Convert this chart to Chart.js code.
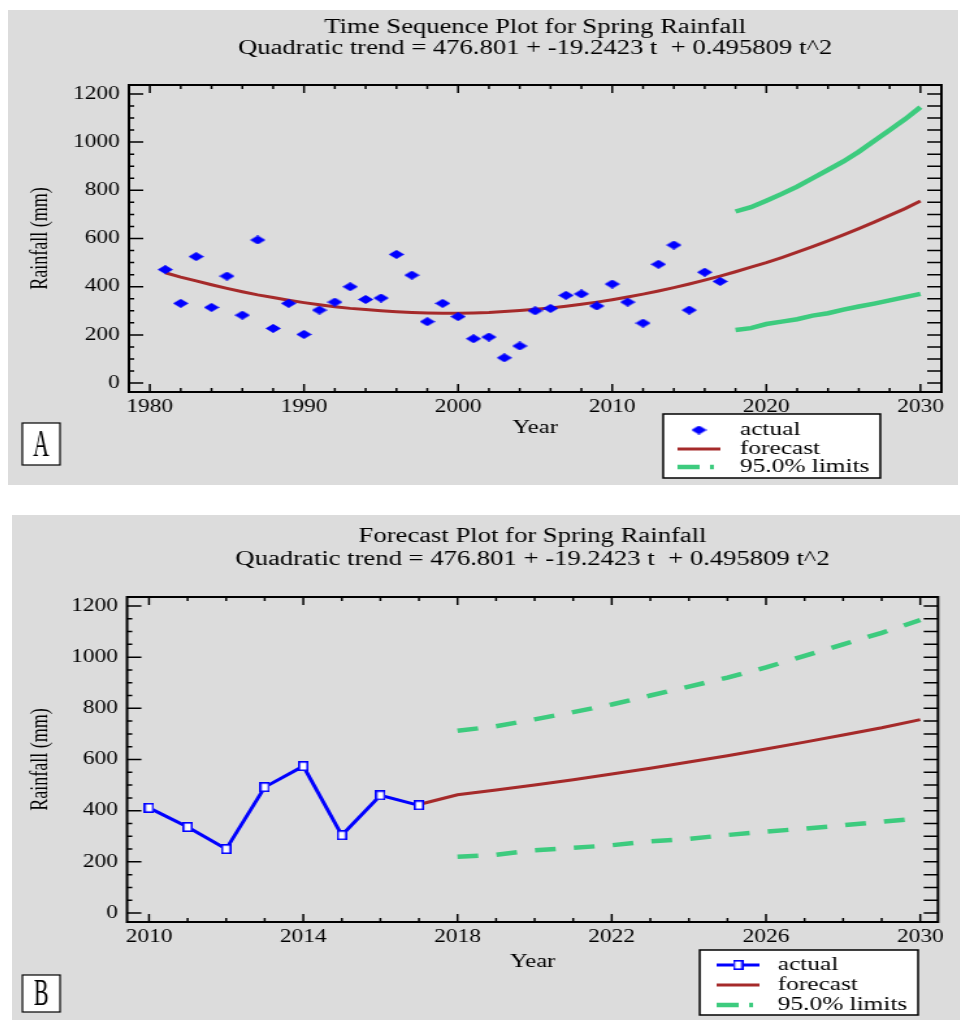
<!DOCTYPE html>
<html>
<head>
<meta charset="utf-8">
<title>Spring Rainfall</title>
<script src="https://cdn.jsdelivr.net/npm/chart.js@4.4.1/dist/chart.umd.min.js"></script>
<style>
  html, body { margin: 0; padding: 0; background: #fff; }
  body { width: 965px; height: 1020px; position: relative; overflow: hidden; }
  .panel { position: absolute; background: #dcdcdc; overflow: hidden; }
  #panel-a { left: 8px; top: 10px; width: 950px; height: 475px; }
  #panel-b { left: 12px; top: 515px; width: 948px; height: 505px; }
  /* the source picture is stretched sideways, so the charts are too */
  .stretch { position: absolute; left: 0; top: 0; transform: scaleX(1.3); transform-origin: 0 0; }
</style>
</head>
<body>
<div class="panel" id="panel-a"><div class="stretch"><canvas id="chartA" width="731" height="475"></canvas></div></div>
<div class="panel" id="panel-b"><div class="stretch"><canvas id="chartB" width="729" height="505"></canvas></div></div>

<script>
// --- DATA ---
const actualYears = [1981, 1982, 1983, 1984, 1985, 1986, 1987, 1988, 1989, 1990,
                     1991, 1992, 1993, 1994, 1995, 1996, 1997, 1998, 1999, 2000,
                     2001, 2002, 2003, 2004, 2005, 2006, 2007, 2008, 2009, 2010,
                     2011, 2012, 2013, 2014, 2015, 2016, 2017];
const actualRain = [471, 331, 525, 314, 444, 282, 594, 227, 331, 202,
                    303, 336, 400, 347, 353, 534, 448, 255, 331, 276,
                    184, 191, 105, 154, 300, 310, 364, 370, 320, 411,
                    336, 249, 493, 573, 303, 460, 422];

const forecastYears = [1981, 1982, 1983, 1984, 1985, 1986, 1987, 1988, 1989, 1990,
                       1991, 1992, 1993, 1994, 1995, 1996, 1997, 1998, 1999, 2000,
                       2001, 2002, 2003, 2004, 2005, 2006, 2007, 2008, 2009, 2010,
                       2011, 2012, 2013, 2014, 2015, 2016, 2017, 2018, 2019, 2020,
                       2021, 2022, 2023, 2024, 2025, 2026, 2027, 2028, 2029, 2030];
const forecastRain = [458, 440, 424, 408, 393, 379, 366, 355, 344, 334,
                      325, 317, 310, 305, 300, 296, 293, 291, 290, 290,
                      291, 293, 297, 301, 306, 312, 319, 327, 336, 346,
                      357, 369, 382, 396, 411, 427, 444, 462, 481, 500,
                      521, 543, 566, 590, 615, 641, 668, 696, 724, 756];

const limitYears = [2018, 2019, 2020, 2021, 2022, 2023, 2024, 2025, 2026, 2027, 2028, 2029, 2030];
const upperLimit = [712, 730, 757, 785, 815, 850, 885, 920, 960, 1005, 1050, 1095, 1145];
const lowerLimit = [220, 228, 245, 255, 265, 280, 290, 305, 318, 330, 343, 357, 370];

// panel B: last years of the record plus the forecast
const recentYears = [2010, 2011, 2012, 2013, 2014, 2015, 2016, 2017];
const recentRain = [411, 336, 250, 492, 574, 304, 460, 421];
const forecastYearsB = [2017, 2018, 2019, 2020, 2021, 2022, 2023, 2024, 2025, 2026, 2027, 2028, 2029, 2030];
const forecastRainB = [424, 462, 481, 500, 521, 543, 566, 590, 615, 641, 668, 696, 724, 756];

const yTicks = [0, 200, 400, 600, 800, 1000, 1200];
const xTicksA = [1980, 1990, 2000, 2010, 2020, 2030];
const xTicksB = [2010, 2014, 2018, 2022, 2026, 2030];

const trendText = 'Quadratic trend = 476.801 + -19.2423 t  + 0.495809 t^2';
const titleA = ['Time Sequence Plot for Spring Rainfall', trendText];
const titleB = ['Forecast Plot for Spring Rainfall', trendText];
const legendLabels = ['actual', 'forecast', '95.0% limits'];

// --- STYLE ---
const SERIF = '"Liberation Serif", "DejaVu Serif", serif';
const BLUE = '#0000ff';
const RED = '#a52a2a';
const GREEN = '#3dcb7e';

const pts = (xs, ys) => xs.map((x, i) => ({ x: x, y: ys[i] }));

function makeMarker(w, h, draw) {
    const c = document.createElement('canvas');
    c.width = w; c.height = h;
    draw(c.getContext('2d'), w, h);
    return c;
}
const diamond = makeMarker(12, 9, (g, w, h) => {
    g.fillStyle = BLUE;
    g.beginPath();
    g.moveTo(0, h / 2); g.lineTo(w / 2, 0); g.lineTo(w, h / 2); g.lineTo(w / 2, h);
    g.closePath();
    g.fill();
});
const square = makeMarker(8, 10, (g, w, h) => {
    g.fillStyle = '#fff';
    g.fillRect(0, 0, w, h);
    g.strokeStyle = BLUE;
    g.lineWidth = 1.6;
    g.strokeRect(0.8, 0.8, w - 1.6, h - 1.6);
});

// --- FRAME, TICKS, TITLES, LEGEND ---
const rainFrame = {
    id: 'rainFrame',
    afterDraw(chart, args, o) {
        const { ctx, chartArea: a, scales: { x, y } } = chart;
        ctx.save();

        // inward ticks on all four sides
        ctx.strokeStyle = '#000';
        ctx.lineWidth = 1.5;
        ctx.beginPath();
        for (let v = 0; v <= 1200; v += 50) {
            const py = y.getPixelForValue(v);
            const major = v % 200 === 0;
            ctx.moveTo(a.left, py); ctx.lineTo(a.left + (major ? 11 : 4), py);
            ctx.moveTo(a.right, py); ctx.lineTo(a.right - 11, py);
        }
        const start = Math.ceil(x.min / o.xMinor) * o.xMinor;
        for (let v = start; v <= x.max; v += o.xMinor) {
            const px = x.getPixelForValue(v);
            const len = (v - o.xTicks[0]) % o.xMajor === 0 ? 8 : 4;
            ctx.moveTo(px, a.bottom); ctx.lineTo(px, a.bottom - len);
            ctx.moveTo(px, a.top); ctx.lineTo(px, a.top + len);
        }
        ctx.stroke();
        ctx.lineWidth = 2;
        ctx.strokeRect(a.left, a.top, a.right - a.left, a.bottom - a.top);

        // two title lines, centred over the plot
        ctx.fillStyle = '#000';
        ctx.font = '20.5px ' + SERIF;
        ctx.textAlign = 'center';
        ctx.textBaseline = 'middle';
        const cx = (a.left + a.right) / 2;
        o.title.forEach((t, i) => ctx.fillText(t, cx, o.titleY[i]));

        // legend box
        const L = o.legend;
        ctx.fillStyle = '#fff';
        ctx.fillRect(L.x, L.y, L.w, L.h);
        ctx.lineWidth = 1.5;
        ctx.strokeStyle = '#000';
        ctx.strokeRect(L.x, L.y, L.w, L.h);
        ctx.font = '19.5px ' + SERIF;
        ctx.textAlign = 'left';
        legendLabels.forEach((label, i) => {
            const ds = chart.data.datasets[i];
            const ry = L.rows[i];
            const mid = (L.x0 + L.x1) / 2;
            if (ds.showLine !== false) {
                ctx.save();
                ctx.strokeStyle = ds.borderColor;
                ctx.lineWidth = ds.borderWidth;
                if (i === 2) ctx.setLineDash(L.dash);
                ctx.beginPath();
                ctx.moveTo(L.x0, ry); ctx.lineTo(L.x1, ry);
                ctx.stroke();
                ctx.restore();
            }
            if (ds.pointRadius > 0 && typeof ds.pointStyle === 'object') {
                const m = ds.pointStyle;
                ctx.drawImage(m, mid - m.width / 2, ry - m.height / 2);
            }
            ctx.fillStyle = '#000';
            ctx.fillText(label, L.textX, ry);
        });

        // panel tag
        const T = o.tag;
        ctx.fillStyle = '#fff';
        ctx.fillRect(T.x, T.y, T.w, T.h);
        ctx.lineWidth = 1.2;
        ctx.strokeRect(T.x, T.y, T.w, T.h);
        ctx.save();
        ctx.translate(T.x + T.w / 2, T.y + T.h / 2 + 2);
        ctx.scale(0.45, 1);
        ctx.fillStyle = '#000';
        ctx.font = '38px ' + SERIF;
        ctx.textAlign = 'center';
        ctx.fillText(T.text, 0, 0);
        ctx.restore();

        ctx.restore();
    }
};

function buildChart(id, cfg) {
    return new Chart(document.getElementById(id), {
        type: 'line',
        data: { datasets: cfg.datasets },
        options: {
            responsive: false,
            animation: false,
            events: [],
            layout: { padding: cfg.padding },
            plugins: {
                legend: { display: false },
                title: { display: false },
                tooltip: { enabled: false },
                rainFrame: cfg.frame
            },
            scales: {
                x: {
                    type: 'linear',
                    min: cfg.xMin, max: cfg.xMax,
                    grid: { display: false, drawTicks: false },
                    border: { display: false },
                    afterBuildTicks: s => { s.ticks = cfg.xTicks.map(v => ({ value: v })); },
                    afterFit: s => { s.height = cfg.xHeight; },
                    ticks: {
                        color: '#000', padding: 4, maxRotation: 0, autoSkip: false,
                        font: { family: SERIF, size: 18 },
                        callback: v => String(v)
                    },
                    title: {
                        display: true, text: 'Year', color: '#000',
                        font: { family: SERIF, size: 19 },
                        padding: { top: 0, bottom: cfg.yearPad }
                    }
                },
                y: {
                    type: 'linear',
                    min: cfg.yMin, max: cfg.yMax,
                    grid: { display: false, drawTicks: false },
                    border: { display: false },
                    afterBuildTicks: s => { s.ticks = yTicks.map(v => ({ value: v })); },
                    afterFit: s => { s.width = cfg.yWidth; },
                    ticks: {
                        color: '#000', padding: 7,
                        font: { family: SERIF, size: 18 },
                        callback: v => String(v)
                    },
                    title: {
                        display: true, text: 'Rainfall (mm)', color: '#000',
                        font: { family: SERIF, size: 18 },
                        padding: { top: cfg.rainPad, bottom: 0 }
                    }
                }
            }
        },
        plugins: [rainFrame]
    });
}

// --- A: TIME SEQUENCE PLOT ---
buildChart('chartA', {
    datasets: [
        { label: 'actual', data: pts(actualYears, actualRain), showLine: false,
          pointStyle: diamond, pointRadius: 5, borderColor: BLUE, backgroundColor: BLUE },
        { label: 'forecast', data: pts(forecastYears, forecastRain), borderColor: RED,
          borderWidth: 3, pointRadius: 0, tension: 0 },
        { label: 'upper', data: pts(limitYears, upperLimit), borderColor: GREEN,
          borderWidth: 4.5, pointRadius: 0 },
        { label: 'lower', data: pts(limitYears, lowerLimit), borderColor: GREEN,
          borderWidth: 4.5, pointRadius: 0 }
    ],
    xMin: 1978.64, xMax: 2031.36, yMin: -37, yMax: 1237,
    xTicks: xTicksA,
    padding: { top: 75, right: 13, left: 0, bottom: 0 },
    xHeight: 93, yWidth: 93, yearPad: 46, rainPad: 14,
    frame: {
        xMinor: 2, xMajor: 10, xTicks: xTicksA,
        title: titleA, titleY: [18, 39],
        legend: { x: 504, y: 404, w: 167, h: 64, rows: [420, 439, 457],
                  x0: 515, x1: 548, textX: 563, dash: [17, 8, 3, 100] },
        tag: { text: 'A', x: 11, y: 413, w: 29, h: 42 }
    }
});

// --- B: FORECAST PLOT ---
buildChart('chartB', {
    datasets: [
        { label: 'actual', data: pts(recentYears, recentRain), borderColor: BLUE,
          borderWidth: 3, pointStyle: square, pointRadius: 5, tension: 0 },
        { label: 'forecast', data: pts(forecastYearsB, forecastRainB), borderColor: RED,
          borderWidth: 3, pointRadius: 0, tension: 0 },
        { label: 'upper', data: pts(limitYears, upperLimit), borderColor: GREEN,
          borderWidth: 4.5, pointRadius: 0, borderDash: [16, 14] },
        { label: 'lower', data: pts(limitYears, lowerLimit), borderColor: GREEN,
          borderWidth: 4.5, pointRadius: 0, borderDash: [16, 14] }
    ],
    xMin: 2009.43, xMax: 2030.46, yMin: -35, yMax: 1235,
    xTicks: xTicksB,
    padding: { top: 82, right: 16.7, left: 0, bottom: 0 },
    xHeight: 98, yWidth: 88.5, yearPad: 47, rainPad: 11,
    frame: {
        xMinor: 1, xMajor: 4, xTicks: xTicksB,
        title: titleB, titleY: [22, 45],
        legend: { x: 529, y: 435, w: 168, h: 65, rows: [450, 470, 490],
                  x0: 542, x1: 575, textX: 589, dash: [17, 8, 3, 100] },
        tag: { text: 'B', x: 8, y: 460, w: 29, h: 37 }
    }
});
</script>
</body>
</html>
